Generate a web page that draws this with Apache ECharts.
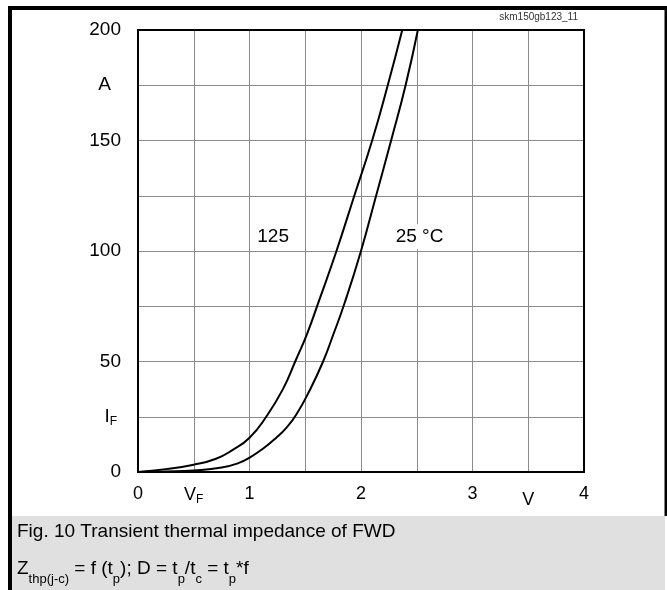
<!DOCTYPE html>
<html>
<head>
<meta charset="utf-8">
<script src="https://cdn.jsdelivr.net/npm/echarts@6/dist/echarts.min.js"></script>
<style>html,body{margin:0;padding:0;background:#fff}#c{width:667px;height:590px}</style>
</head>
<body>
<div id="c"></div>
<script>
// Forward characteristic of diode, IF vs VF
const curve125 = [[0,0],[0.25,1.3],[0.5,3.3],[0.7,6],[0.85,10],[1.0,15.5],[1.15,25],[1.3,37.5],[1.41,50],[1.52,63],[1.62,77],[1.78,100],[1.94,125],[2.10,150],[2.24,175],[2.37,200]];
const curve25 = [[0,0],[0.25,0.2],[0.5,0.7],[0.75,2],[0.9,4],[1.0,6.5],[1.12,10.5],[1.24,15.5],[1.33,20],[1.42,26],[1.54,37],[1.66,50],[1.75,62],[1.85,76],[2.0,100],[2.13,124],[2.27,150],[2.40,175],[2.51,200]];
const xTickLabels = {0:'0', 0.5:'{v|V}{s|F}', 1:'1', 1.5:'', 2:'2', 2.5:'', 3:'3', 3.5:'{u|V}', 4:'4'};
const yTickLabels = {0:'0', 25:'{i|I}{s|F}', 50:'50', 75:'', 100:'100', 125:'', 150:'150', 175:'{a|A}', 200:'200'};
const curveLabels = [{name:'125', coord:[1.27,106.5], pad:[3,16,3,3]}, {name:'25 °C', coord:[2.525,106.5], pad:[3,3,3,3]}];
const figTitle = 'Fig. 10 Transient thermal impedance of FWD';
const docId = 'skm150gb123_11';

const FONT = '"Liberation Sans", Arial, sans-serif';
const chart = echarts.init(document.getElementById('c'), null, {renderer:'canvas'});
const lineSeries = (name, data, labels) => ({
  type:'line', name, data, smooth:0.5, symbol:'none',
  lineStyle:{color:'#000', width:2}, itemStyle:{color:'#000'}, z:3,
  markPoint: labels ? {
    symbol:'circle', symbolSize:1, itemStyle:{color:'rgba(0,0,0,0)'}, silent:true,
    data: labels.map(l => ({name:l.name, coord:l.coord, label:{padding:l.pad}})),
    label:{show:true, position:'inside', formatter:p=>p.name, color:'#000', fontSize:19, fontFamily:FONT, backgroundColor:'#fff'}
  } : undefined
});
chart.setOption({
  animation:false,
  backgroundColor:'#fff',
  grid:{left:138, top:30, width:446, height:442, show:true, borderColor:'#000', borderWidth:2, z:4},
  xAxis:{type:'value', min:0, max:4, interval:0.5,
    axisLine:{show:true, lineStyle:{color:'#000', width:2}}, axisTick:{show:false},
    splitLine:{show:true, lineStyle:{color:'#8c8c8c', width:1}},
    axisLabel:{margin:13, color:'#000', fontSize:18, fontFamily:FONT,
      formatter:v => xTickLabels[v] !== undefined ? xTickLabels[v] : '',
      rich:{v:{fontSize:18, fontFamily:FONT, color:'#000'}, s:{fontSize:12, fontFamily:FONT, color:'#000', padding:[9,0,0,0]}, u:{fontSize:18, fontFamily:FONT, color:'#000', padding:[6,0,0,0]}}}},
  yAxis:{type:'value', min:0, max:200, interval:25,
    axisLine:{show:true, lineStyle:{color:'#000', width:2}}, axisTick:{show:false},
    splitLine:{show:true, lineStyle:{color:'#8c8c8c', width:1}},
    axisLabel:{margin:17, color:'#000', fontSize:19, fontFamily:FONT,
      formatter:v => yTickLabels[v] !== undefined ? yTickLabels[v] : '',
      rich:{i:{fontSize:19, fontFamily:FONT, color:'#000'}, s:{fontSize:12, fontFamily:FONT, color:'#000', padding:[9,4,0,0]}, a:{fontSize:19, fontFamily:FONT, color:'#000', padding:[0,10,0,0]}}}},
  series:[lineSeries('125 °C', curve125, curveLabels), lineSeries('25 °C', curve25, null)],
  graphic:[
    {type:'rect', shape:{x:12, y:516, width:653, height:74}, style:{fill:'#e0e0e0'}, z:0, silent:true},
    {type:'line', shape:{x1:10, y1:6, x2:10, y2:590}, style:{stroke:'#000', lineWidth:4}, z:10},
    {type:'line', shape:{x1:8, y1:8, x2:669, y2:8}, style:{stroke:'#000', lineWidth:4}, z:10},
    {type:'line', shape:{x1:666, y1:6, x2:666, y2:516}, style:{stroke:'#000', lineWidth:3}, z:10},
    {type:'text', x:578, y:17, style:{text:docId, fontSize:10, fontFamily:FONT, fill:'#333', align:'right', verticalAlign:'middle'}, z:10},
    {type:'text', x:17, y:532, style:{text:figTitle, fontSize:19, fontFamily:FONT, fill:'#000', align:'left', verticalAlign:'middle'}, z:10},
    {type:'text', x:17, y:559, style:{
      text:'{n|Z}{s|thp(j-c)}{n| = f (t}{s|p}{n|); D = t}{s|p}{n|/t}{s|c}{n| = t}{s|p}{n|*f}',
      fontFamily:FONT, fill:'#000', align:'left', verticalAlign:'top',
      rich:{n:{fontSize:19, fontFamily:FONT, fill:'#000', lineHeight:20}, s:{fontSize:13, fontFamily:FONT, fill:'#000', lineHeight:14, padding:[21,0,0,0]}}}, z:10}
  ]
});
</script>
</body>
</html>
